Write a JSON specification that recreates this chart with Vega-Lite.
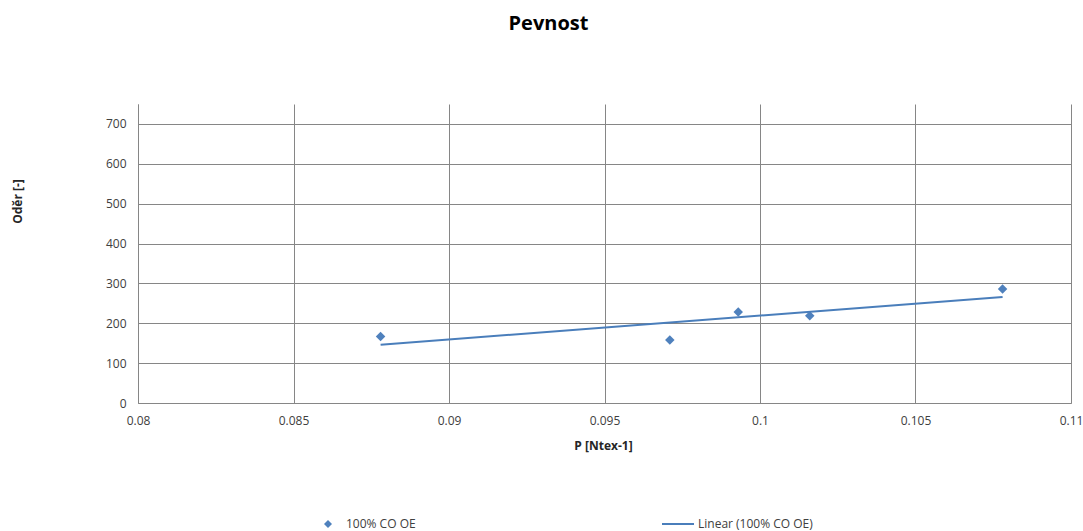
{
  "$schema": "https://vega.github.io/schema/vega-lite/v6.json",
  "autosize": {"type": "none"},
  "padding": {"left": 138, "top": 104, "right": 12, "bottom": 128},
  "width": 933,
  "height": 299,
  "background": "white",
  "config": {
    "font": "Open Sans",
    "view": {"stroke": null},
    "axis": {"labelFont": "Open Sans", "titleFont": "Open Sans", "labelColor": "#404040", "titleColor": "#262626"}
  },
  "title": {
    "text": "Pevnost",
    "font": "Open Sans",
    "fontSize": 20,
    "fontWeight": "bold",
    "color": "#000000",
    "anchor": "middle",
    "dx": -56,
    "offset": 70
  },
  "data": {
    "values": [
      {"p": 0.0878, "oder": 167, "series": "100% CO OE"},
      {"p": 0.0971, "oder": 158, "series": "100% CO OE"},
      {"p": 0.0993, "oder": 228, "series": "100% CO OE"},
      {"p": 0.1016, "oder": 219, "series": "100% CO OE"},
      {"p": 0.1078, "oder": 286, "series": "100% CO OE"}
    ]
  },
  "layer": [
    {
      "mark": {"type": "point", "filled": true, "color": "#4F81BD", "opacity": 1, "size": 90},
      "encoding": {
        "x": {
          "field": "p", "type": "quantitative",
          "scale": {"domain": [0.08, 0.11], "nice": false, "zero": false},
          "axis": {
            "title": "P [Ntex-1]",
            "values": [0.08, 0.085, 0.09, 0.095, 0.1, 0.105, 0.11],
            "format": ".3~g",
            "ticks": false,
            "labelPadding": 12,
            "labelFontSize": 12,
            "labelFlush": false,
            "domainColor": "#868686",
            "gridColor": "#868686",
            "gridOpacity": 1,
            "titleFontSize": 12,
            "titleFontWeight": "bold",
            "titleX": 465,
            "titleY": 42,
            "titleBaseline": "middle",
            "titleAlign": "center"
          }
        },
        "y": {
          "field": "oder", "type": "quantitative",
          "scale": {"domain": [0, 750], "nice": false},
          "axis": {
            "title": "Odĕr [-]",
            "values": [0, 100, 200, 300, 400, 500, 600, 700],
            "ticks": false,
            "labelPadding": 12,
            "labelFontSize": 12,
            "labelFlush": false,
            "domainColor": "#868686",
            "gridColor": "#868686",
            "gridOpacity": 1,
            "titleFontSize": 12,
            "titleFontWeight": "bold",
            "titleAngle": -90,
            "titleX": -121,
            "titleY": 97,
            "titleBaseline": "middle",
            "titleAlign": "center"
          }
        },
        "shape": {
          "field": "series", "type": "nominal",
          "scale": {"domain": ["100% CO OE"], "range": ["diamond"]},
          "legend": {
            "title": null,
            "orient": "none",
            "legendX": 184,
            "legendY": 414,
            "padding": 0,
            "symbolSize": 64,
            "symbolFillColor": "#4F81BD",
            "symbolStrokeColor": "#4F81BD",
            "symbolOpacity": 1,
            "labelOffset": 12,
            "labelFont": "Open Sans",
            "labelFontSize": 12,
            "labelColor": "#404040"
          }
        }
      }
    },
    {
      "transform": [{"regression": "oder", "on": "p"}],
      "mark": {"type": "line", "strokeWidth": 2},
      "encoding": {
        "x": {"field": "p", "type": "quantitative"},
        "y": {"field": "oder", "type": "quantitative"},
        "color": {
          "datum": "Linear (100% CO OE)",
          "scale": {"domain": ["Linear (100% CO OE)"], "range": ["#4A7EBB"]},
          "legend": {
            "title": null,
            "orient": "none",
            "legendX": 523,
            "legendY": 403,
            "padding": 0,
            "symbolType": "stroke",
            "symbolSize": 1024,
            "symbolStrokeWidth": 2,
            "labelOffset": 3,
            "labelFont": "Open Sans",
            "labelFontSize": 12,
            "labelColor": "#404040"
          }
        }
      }
    }
  ]
}
